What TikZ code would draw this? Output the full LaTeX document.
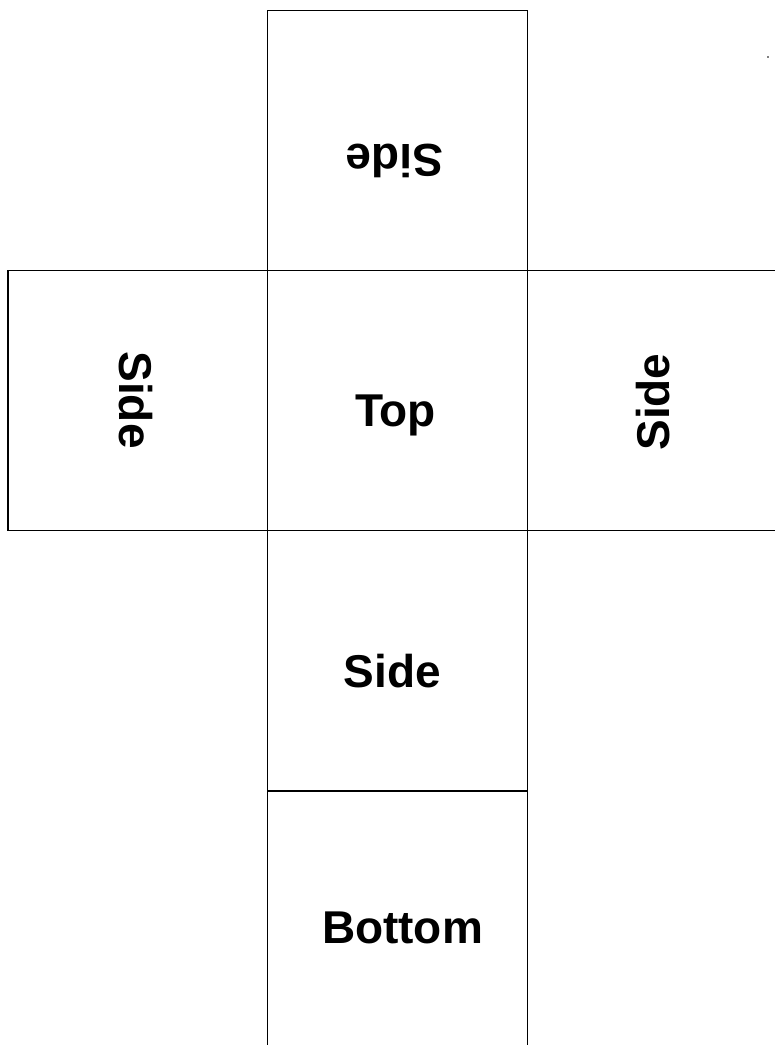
\documentclass[tikz,border=0pt]{standalone}
\usepackage{fontspec}
\setmainfont{Liberation Sans}
\tikzset{
  face/.style={draw=black, line width=1.8pt},
  lbl/.style={font=\fontsize{46}{50}\selectfont\bfseries, inner sep=0pt}
}
\begin{document}
\begin{tikzpicture}[x=1pt,y=-1pt]
\useasboundingbox (0,0) rectangle (775,1045);
\fill[white] (0,0) rectangle (775,1045);
\begin{scope}
\clip (0,0) rectangle (775,1045);
\draw[face] (267.5,10.5) rectangle (527.5,270.5);
\draw[face] (8,270.5) rectangle (267.5,530.5);
\draw[face] (267.5,270.5) rectangle (527.5,530.5);
\draw[face] (527.5,270.5) rectangle (787.5,530.5);
\draw[face] (267.5,530.5) rectangle (527.5,791);
\draw[face] (267.5,791) rectangle (527.5,1051);
\end{scope}
\fill[black!50] (766.8,55.8) rectangle (769.2,58.2);
\node[lbl, rotate=180] (sideup) at (394.5,161) {Side};
\node[lbl, rotate=-90] (sideleft) at (135.5,400) {Side};
\node[lbl, rotate=90] (sideright) at (653.5,402) {Side};
\node[lbl, anchor=base] (top) at (395.5,426) {Top};
\node[lbl] (sidemid) at (392.5,671) {Side};
\node[lbl, anchor=base] (bottom) at (402.5,943) {Bottom};
\end{tikzpicture}
\end{document}
